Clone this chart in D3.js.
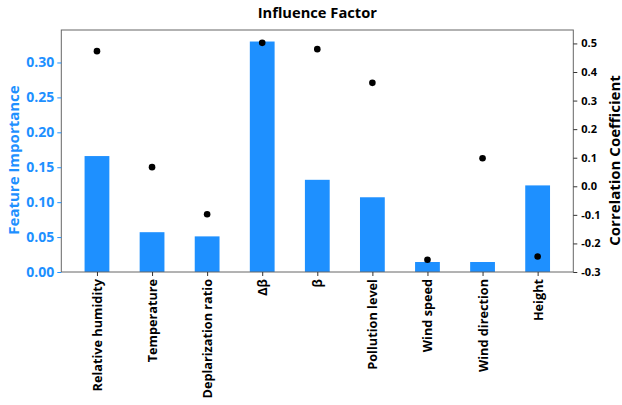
<!DOCTYPE html>
<html>
<head>
<meta charset="utf-8">
<script src="https://cdn.jsdelivr.net/npm/d3@7"></script>
<style>
  html, body { margin: 0; padding: 0; background: #fff; }
  svg text { font-family: "Open Sans", "Noto Sans", sans-serif; font-weight: bold; }
</style>
</head>
<body>
<svg id="chart" width="622" height="405"></svg>
<script>
// Influence factors and their scores
const factors = ["Relative humidity", "Temperature", "Deplarization ratio", "Δβ", "β",
                 "Pollution level", "Wind speed", "Wind direction", "Height"];
const importance = [0.166, 0.057, 0.051, 0.330, 0.132, 0.107, 0.0143, 0.0143, 0.124];
const correlation = [0.473, 0.067, -0.098, 0.502, 0.480, 0.362, -0.257, 0.098, -0.246];
const importanceTicks = [0.00, 0.05, 0.10, 0.15, 0.20, 0.25, 0.30];
const correlationTicks = [-0.3, -0.2, -0.1, 0.0, 0.1, 0.2, 0.3, 0.4, 0.5];

const blue = "#1E90FF";
const frame = { left: 61.3, right: 573.3, top: 30, bottom: 272 };

const svg = d3.select("#chart");

const x = d3.scalePoint()
  .domain(factors)
  .range([frame.left, frame.right])
  .padding(0.6475);
const barW = x.step() * 0.45;

const yL = d3.scaleLinear().domain([0, 0.3465]).range([frame.bottom, frame.top]);
const yR = d3.scaleLinear().domain([-0.3, 0.547]).range([frame.bottom, frame.top]);

// bars: feature importance
svg.append("g").selectAll("rect")
  .data(factors)
  .join("rect")
  .attr("x", (d) => x(d) - barW / 2)
  .attr("width", barW)
  .attr("y", (d, i) => yL(importance[i]))
  .attr("height", (d, i) => yL(0) - yL(importance[i]))
  .attr("fill", blue);

// dots: correlation coefficient
svg.append("g").selectAll("circle")
  .data(factors)
  .join("circle")
  .attr("cx", (d) => x(d))
  .attr("cy", (d, i) => yR(correlation[i]))
  .attr("r", 3.3)
  .attr("fill", "#000");

// frame
svg.append("rect")
  .attr("x", frame.left).attr("y", frame.top)
  .attr("width", frame.right - frame.left)
  .attr("height", frame.bottom - frame.top)
  .attr("fill", "none")
  .attr("stroke", "#666")
  .attr("stroke-width", 1);

// left axis
const gL = svg.append("g")
  .attr("transform", `translate(${frame.left},0)`)
  .call(d3.axisLeft(yL).tickValues(importanceTicks).tickFormat(d3.format(".2f")).tickSize(4).tickPadding(3));
gL.select(".domain").remove();
gL.selectAll("line").attr("stroke", blue);
gL.selectAll("text").attr("fill", blue).style("font-size", "14px");

// right axis (plain hyphen for negatives)
const fmtR = (v) => d3.format(".1f")(v).replace("\u2212", "-");
const gR = svg.append("g")
  .attr("transform", `translate(${frame.right},0)`)
  .call(d3.axisRight(yR).tickValues(correlationTicks).tickFormat(fmtR).tickSize(4).tickPadding(4));
gR.select(".domain").remove();
gR.selectAll("line").attr("stroke", "#333");
gR.selectAll("text").attr("fill", "#000").style("font-size", "11px");

// bottom axis with vertical labels
const gB = svg.append("g")
  .attr("transform", `translate(0,${frame.bottom})`)
  .call(d3.axisBottom(x).tickSize(4));
gB.select(".domain").remove();
gB.selectAll("line").attr("stroke", "#333");
gB.selectAll("text")
  .attr("fill", "#000")
  .style("font-size", "12.7px")
  .attr("text-anchor", "end")
  .attr("dy", "0.35em")
  .attr("transform", "translate(0,7) rotate(-90)")
  .attr("x", 0).attr("y", 0);

// titles
svg.append("text")
  .attr("x", (frame.left + frame.right) / 2).attr("y", 18)
  .attr("text-anchor", "middle")
  .style("font-size", "14.7px")
  .attr("fill", "#000")
  .text("Influence Factor");

svg.append("text")
  .attr("transform", "translate(19,160) rotate(-90)")
  .attr("text-anchor", "middle")
  .style("font-size", "15px")
  .attr("fill", blue)
  .text("Feature Importance");

svg.append("text")
  .attr("transform", "translate(619.5,160.5) rotate(-90)")
  .attr("text-anchor", "middle")
  .style("font-size", "15px")
  .attr("fill", "#000")
  .text("Correlation Coefficient");
</script>
</body>
</html>
